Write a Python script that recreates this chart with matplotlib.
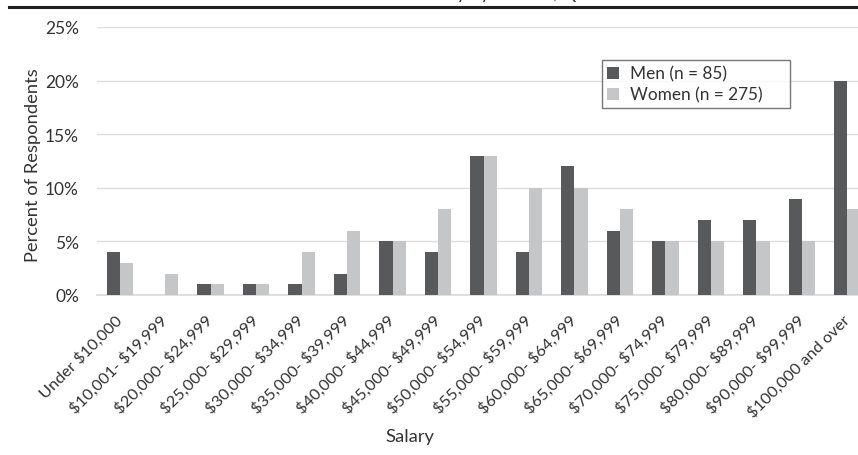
import numpy as np
import matplotlib.pyplot as plt
from matplotlib.lines import Line2D

categories = ['Under $10,000', '$10,001- $19,999', '$20,000- $24,999', '$25,000- $29,999',
              '$30,000- $34,999', '$35,000- $39,999', '$40,000- $44,999', '$45,000- $49,999',
              '$50,000- $54,999', '$55,000- $59,999', '$60,000- $64,999', '$65,000- $69,999',
              '$70,000- $74,999', '$75,000- $79,999', '$80,000- $89,999', '$90,000- $99,999',
              '$100,000 and over']
men = [4, 0, 1, 1, 1, 2, 5, 4, 13, 4, 12, 6, 5, 7, 7, 9, 20]
women = [3, 2, 1, 1, 4, 6, 5, 8, 13, 10, 10, 8, 5, 5, 5, 5, 8]
yticks = [0, 5, 10, 15, 20, 25]

plt.rcParams['font.family'] = ['Lato', 'DejaVu Sans']

fig = plt.figure(figsize=(8.58, 4.56), dpi=100)
# plot area runs past the right edge (chart is cropped in the reference)
ax = fig.add_axes([97/858, 1-296/456, 773/858, 268/456])

x = np.arange(len(categories))
w = 0.29
ax.bar(x - w/2, men, w, color='#58595b', label='Men (n = 85)', zorder=3)
ax.bar(x + w/2, women, w, color='#c5c6c8', label='Women (n = 275)', zorder=3)

ax.set_xlim(-0.5, len(categories) - 0.5)
ax.set_ylim(0, 25)
ax.set_yticks(yticks)
ax.set_yticklabels(['{}%'.format(t) for t in yticks], fontsize=12.5, color='#333333')
ax.yaxis.grid(True, color='#dedede', linewidth=1, zorder=0)
ax.tick_params(axis='y', length=0, pad=13)
ax.tick_params(axis='x', length=0, pad=16)
ax.set_xticks(x)
ax.set_xticklabels([c.replace('$', r'\$') for c in categories], rotation=45, ha='right',
                   va='center', rotation_mode='anchor', fontsize=11.8, color='#333333')
for s in ['top', 'right', 'left']:
    ax.spines[s].set_visible(False)
ax.spines['bottom'].set_color('#d9d9d9')
ax.spines['bottom'].set_linewidth(1.2)

fig.text(33/858, 1-165/456, 'Percent of Respondents', rotation=90, fontsize=13.2,
         ha='center', va='center', color='#333333')
fig.text(410/858, 1-437/456, 'Salary', fontsize=13.2, ha='center', va='center', color='#333333')

leg = ax.legend(loc='upper left', bbox_to_anchor=((602-97)/773, (296-64)/268, 188/773, 0.01),
                mode='expand', fontsize=12.4, frameon=True, fancybox=False, handlelength=0.7,
                handleheight=0.7, borderpad=0.3, labelspacing=0.3, handletextpad=0.6,
                borderaxespad=0)
leg.get_frame().set_edgecolor('#555555')
leg.get_frame().set_linewidth(1)
for t in leg.get_texts():
    t.set_color('#333333')

# cropped title and rule at the top
fig.text(497/858, 1+1/456, 'Salary by Gender, Q', fontsize=13, ha='center',
         va='baseline', color='#333333')
fig.add_artist(Line2D([0.01, 1.0], [1-8/456, 1-8/456], color='#222222', linewidth=2.2))

fig.savefig('out.png', dpi=100)
